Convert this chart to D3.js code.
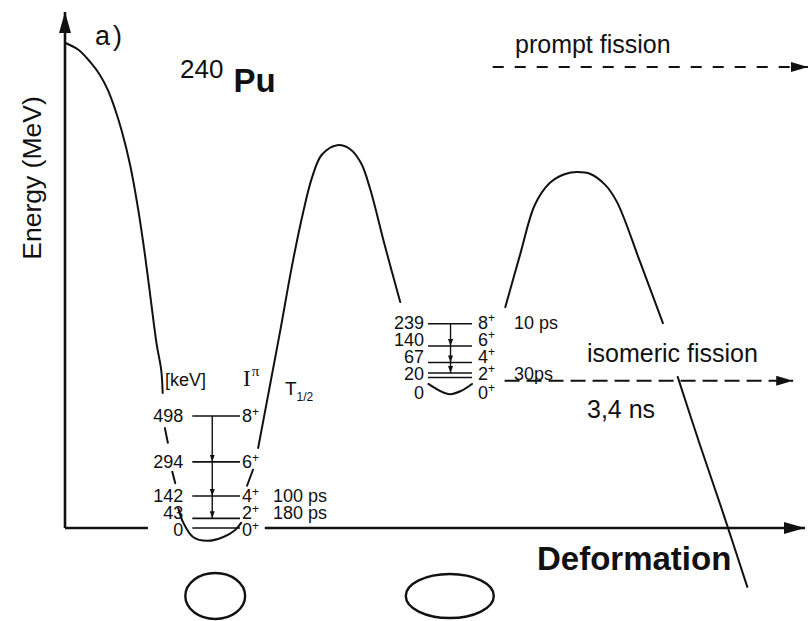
<!DOCTYPE html>
<html>
<head>
<meta charset="utf-8">
<script src="https://cdn.jsdelivr.net/npm/d3@7"></script>
<style>
  body { margin: 0; background: #fff; }
  svg { display: block; }
  text { fill: #111; }
</style>
</head>
<body>
<svg id="chart" width="812" height="621"></svg>
<script>
// ---- Data -------------------------------------------------------------
// Potential energy along the fission path: [deformation (arb. units), energy (MeV)].
// null breaks the line where the level labels sit.
const barrierCurve = [
  [0.0, 7.58], [1.8, 7.47], [3.4, 7.28], [4.7, 7.08], [5.8, 6.84], [6.8, 6.53], [7.7, 6.19],
  [8.8, 5.67], [9.9, 4.97], [10.8, 4.27], [11.6, 3.56], [12.4, 2.86], [13.0, 2.47], [13.2, 2.11],
  null,
  [13.5, 1.56], [13.9, 1.33],
  null,
  [14.5, 0.88], [14.9, 0.70],
  null,
  [15.3, 0.31], [16.0, 0.08], [17.3, -0.14], [19.2, -0.20], [21.4, -0.14], [23.0, -0.03], [23.8, 0.08],
  null,
  [24.6, 0.66], [25.4, 0.91],
  null,
  [26.1, 1.25], [27.7, 2.23], [29.1, 3.09], [30.7, 4.11], [32.2, 4.94], [33.4, 5.48],
  [34.7, 5.83], [36.8, 5.98], [38.5, 5.92], [40.0, 5.70], [41.2, 5.31], [43.2, 4.42], [45.3, 3.53],
  null,
  [49.1, 2.25], [50.7, 2.14], [52.0, 2.09], [53.5, 2.14], [55.0, 2.25],
  null,
  [59.5, 3.45], [61.5, 4.27], [63.5, 5.05], [65.5, 5.39], [67.6, 5.53], [69.2, 5.56],
  [71.0, 5.53], [73.0, 5.36], [74.6, 5.09], [77.7, 4.16], [80.8, 3.20],
  null,
  [82.8, 2.36], [85.8, 1.30], [88.8, 0.28], [92.2, -0.92]
];

// Rotational band in the first (normal) well
const groundBandKeV      = [0, 43, 142, 294, 498];
const groundBandSpin     = ["0", "2", "4", "6", "8"];
const groundBandHalfLife = [null, "180 ps", "100 ps", null, null];

// Rotational band in the second (shape-isomeric) well
const isomerBandKeV      = [0, 20, 67, 140, 239];
const isomerBandSpin     = ["0", "2", "4", "6", "8"];
const isomerBandHalfLife = [null, "30ps", null, null, "10 ps"];

// Band-head energies of the two wells (MeV)
const wellEnergyMeV = [0, 2.35];

// Nuclear shapes below the two minima: deformation and axis ratio
const shapeDeformation = [20.3, 52.0];
const shapeAxisRatio   = [1.3, 2.0];

// Fission decay paths: energy (MeV)
const promptFissionMeV   = 7.2;
const isomericFissionMeV = 2.30;

// ---- Scales -----------------------------------------------------------
const svg = d3.select("#chart");
const x = d3.scaleLinear().domain([0, 100]).range([65, 805]);   // deformation
const y = d3.scaleLinear().domain([0, 8.06]).range([528, 12]);  // energy, MeV
const keV = d3.scaleLinear().domain([0, 500]).range([0, 112.5]); // level spacing inside a well

const ink = "#111";

// ---- Markers ----------------------------------------------------------
const defs = svg.append("defs");
function arrowMarker(id, len, wid) {
  defs.append("marker")
    .attr("id", id)
    .attr("markerUnits", "userSpaceOnUse")
    .attr("markerWidth", len).attr("markerHeight", wid)
    .attr("refX", len).attr("refY", wid / 2)
    .attr("orient", "auto")
    .append("path")
    .attr("d", `M0,0 L${len},${wid / 2} L0,${wid} Z`)
    .attr("fill", ink);
}
arrowMarker("axisHead", 21, 12);
arrowMarker("dashHead", 17, 10);
arrowMarker("gammaHead", 7, 5);

// ---- Axes -------------------------------------------------------------
const axes = svg.append("g").attr("stroke", ink).attr("stroke-width", 2.6).attr("fill", "none");
axes.append("line")
  .attr("x1", x(0)).attr("y1", y(0)).attr("x2", x(0)).attr("y2", y(8.06))
  .attr("marker-end", "url(#axisHead)");
axes.append("line")
  .attr("x1", x(0)).attr("y1", y(0)).attr("x2", x(11.2)).attr("y2", y(0));
axes.append("line")
  .attr("x1", x(27.0)).attr("y1", y(0)).attr("x2", x(100)).attr("y2", y(0))
  .attr("marker-end", "url(#axisHead)");

svg.append("text")
  .attr("transform", `translate(41,178) rotate(-90)`)
  .attr("text-anchor", "middle")
  .attr("font-family", "'Liberation Sans', Arial, sans-serif")
  .attr("font-size", 26.5)
  .text("Energy (MeV)");

svg.append("text")
  .attr("x", 537).attr("y", 570)
  .attr("font-family", "'Liberation Sans', Arial, sans-serif")
  .attr("font-weight", "bold")
  .attr("font-size", 33)
  .text("Deformation");

// ---- Titles -----------------------------------------------------------
svg.append("text")
  .attr("x", 95).attr("y", 45)
  .attr("font-family", "'Liberation Sans', Arial, sans-serif")
  .attr("font-size", 27).attr("letter-spacing", 3)
  .text("a)");

const nuc = svg.append("text")
  .attr("x", 180).attr("y", 92)
  .attr("font-family", "'Liberation Sans', Arial, sans-serif");
nuc.append("tspan").attr("font-size", 26).attr("dy", -14).text("240");
nuc.append("tspan").attr("font-size", 33).attr("font-weight", "bold").attr("dx", 10).attr("dy", 14).text("Pu");

// ---- Potential curve --------------------------------------------------
const line = d3.line()
  .defined(d => d !== null)
  .x(d => x(d[0]))
  .y(d => y(d[1]))
  .curve(d3.curveCatmullRom.alpha(0.5));

svg.append("path")
  .datum(barrierCurve)
  .attr("d", line)
  .attr("fill", "none")
  .attr("stroke", ink)
  .attr("stroke-width", 2)
  .attr("stroke-linejoin", "round")
  .attr("stroke-linecap", "round");

// ---- Level schemes ----------------------------------------------------
const levelFont = "'Liberation Sans', Arial, sans-serif";
const levelSize = 18;

function drawBand(opts) {
  const { energies, spins, halfLives, base, x0, x1, gammaX, groundDrop,
          energyGap, spinGap, halfLifeX } = opts;
  const g = svg.append("g");
  const lineY = energies.map(e => y(base) - keV(e));

  // label positions pushed apart so they do not collide
  const labY = [];
  lineY.forEach((ly, i) => {
    labY.push(i === 0 ? ly + groundDrop : Math.min(ly, labY[i - 1] - 17));
  });

  // level lines
  g.selectAll("line.level").data(lineY).join("line")
    .attr("class", "level")
    .attr("x1", x(x0)).attr("x2", x(x1))
    .attr("y1", d => d).attr("y2", d => d)
    .attr("stroke", ink).attr("stroke-width", 1.6);

  // gamma cascade
  for (let i = energies.length - 1; i >= 2; i--) {
    g.append("line")
      .attr("x1", x(gammaX)).attr("x2", x(gammaX))
      .attr("y1", lineY[i]).attr("y2", lineY[i - 1])
      .attr("stroke", ink).attr("stroke-width", 1.4)
      .attr("marker-end", "url(#gammaHead)");
  }

  // energies (keV)
  g.selectAll("text.energy").data(energies).join("text")
    .attr("class", "energy")
    .attr("x", x(x0) - energyGap)
    .attr("y", (d, i) => labY[i])
    .attr("dy", "0.36em")
    .attr("text-anchor", "end")
    .attr("font-family", levelFont).attr("font-size", levelSize)
    .text(d => d);

  // spin / parity
  const sp = g.selectAll("text.spin").data(spins).join("text")
    .attr("class", "spin")
    .attr("x", x(x1) + spinGap)
    .attr("y", (d, i) => labY[i])
    .attr("dy", "0.36em")
    .attr("font-family", levelFont).attr("font-size", levelSize);
  sp.append("tspan").text(d => d);
  sp.append("tspan").attr("font-size", 12).attr("dy", "-0.55em").text("+");

  // half-lives
  g.selectAll("text.half").data(halfLives.map((h, i) => ({ h, i })).filter(d => d.h)).join("text")
    .attr("class", "half")
    .attr("x", halfLifeX)
    .attr("y", d => labY[d.i])
    .attr("dy", "0.36em")
    .attr("font-family", levelFont).attr("font-size", levelSize)
    .text(d => d.h);
}

drawBand({
  energies: groundBandKeV, spins: groundBandSpin, halfLives: groundBandHalfLife,
  base: wellEnergyMeV[0], x0: 17.2, x1: 23.65, gammaX: 19.9, groundDrop: 2,
  energyGap: 9, spinGap: 2, halfLifeX: 273
});
drawBand({
  energies: isomerBandKeV, spins: isomerBandSpin, halfLives: isomerBandHalfLife,
  base: wellEnergyMeV[1], x0: 49.05, x1: 55.0, gammaX: 52.1, groundDrop: 15,
  energyGap: 4, spinGap: 6, halfLifeX: 514
});

// column headings of the first level scheme
svg.append("text").attr("x", 165).attr("y", 386)
  .attr("font-family", levelFont).attr("font-size", 18).text("[keV]");
const ip = svg.append("text").attr("x", 243).attr("y", 386);
ip.append("tspan").attr("font-family", "'Liberation Serif', serif").attr("font-size", 23).text("I");
ip.append("tspan").attr("font-family", "'Liberation Serif', serif").attr("font-size", 15).attr("dy", -10).attr("dx", 1).text("π");
const th = svg.append("text").attr("x", 285).attr("y", 395).attr("font-family", levelFont);
th.append("tspan").attr("font-size", 19).text("T");
th.append("tspan").attr("font-size", 12).attr("dy", 6).text("1/2");

// ---- Fission paths ----------------------------------------------------
const dashes = svg.append("g").attr("stroke", ink).attr("stroke-width", 2).attr("fill", "none");
dashes.append("line")
  .attr("x1", x(57.8)).attr("x2", x(100.4))
  .attr("y1", y(promptFissionMeV)).attr("y2", y(promptFissionMeV))
  .attr("stroke-dasharray", "11 11")
  .attr("marker-end", "url(#dashHead)");
dashes.append("line")
  .attr("x1", x(59.4)).attr("x2", x(98.4))
  .attr("y1", y(isomericFissionMeV)).attr("y2", y(isomericFissionMeV))
  .attr("stroke-dasharray", "15 7")
  .attr("marker-end", "url(#dashHead)");

const annFont = "'Liberation Sans', Arial, sans-serif";
svg.append("text").attr("x", 515).attr("y", 53)
  .attr("font-family", annFont).attr("font-size", 25).text("prompt fission");
svg.append("text").attr("x", 587).attr("y", 362)
  .attr("font-family", annFont).attr("font-size", 25).text("isomeric fission");
svg.append("text").attr("x", 587).attr("y", 418)
  .attr("font-family", annFont).attr("font-size", 25).text("3,4 ns");

// ---- Nuclear shapes ---------------------------------------------------
const shapeMinor = [23, 22];
svg.selectAll("ellipse.shape")
  .data(shapeDeformation.map((d, i) => ({ d, r: shapeAxisRatio[i], m: shapeMinor[i] })))
  .join("ellipse")
  .attr("class", "shape")
  .attr("cx", d => x(d.d))
  .attr("cy", 596)
  .attr("rx", d => d.m * d.r)
  .attr("ry", d => d.m)
  .attr("fill", "none")
  .attr("stroke", ink)
  .attr("stroke-width", 2.4);
</script>
</body>
</html>
